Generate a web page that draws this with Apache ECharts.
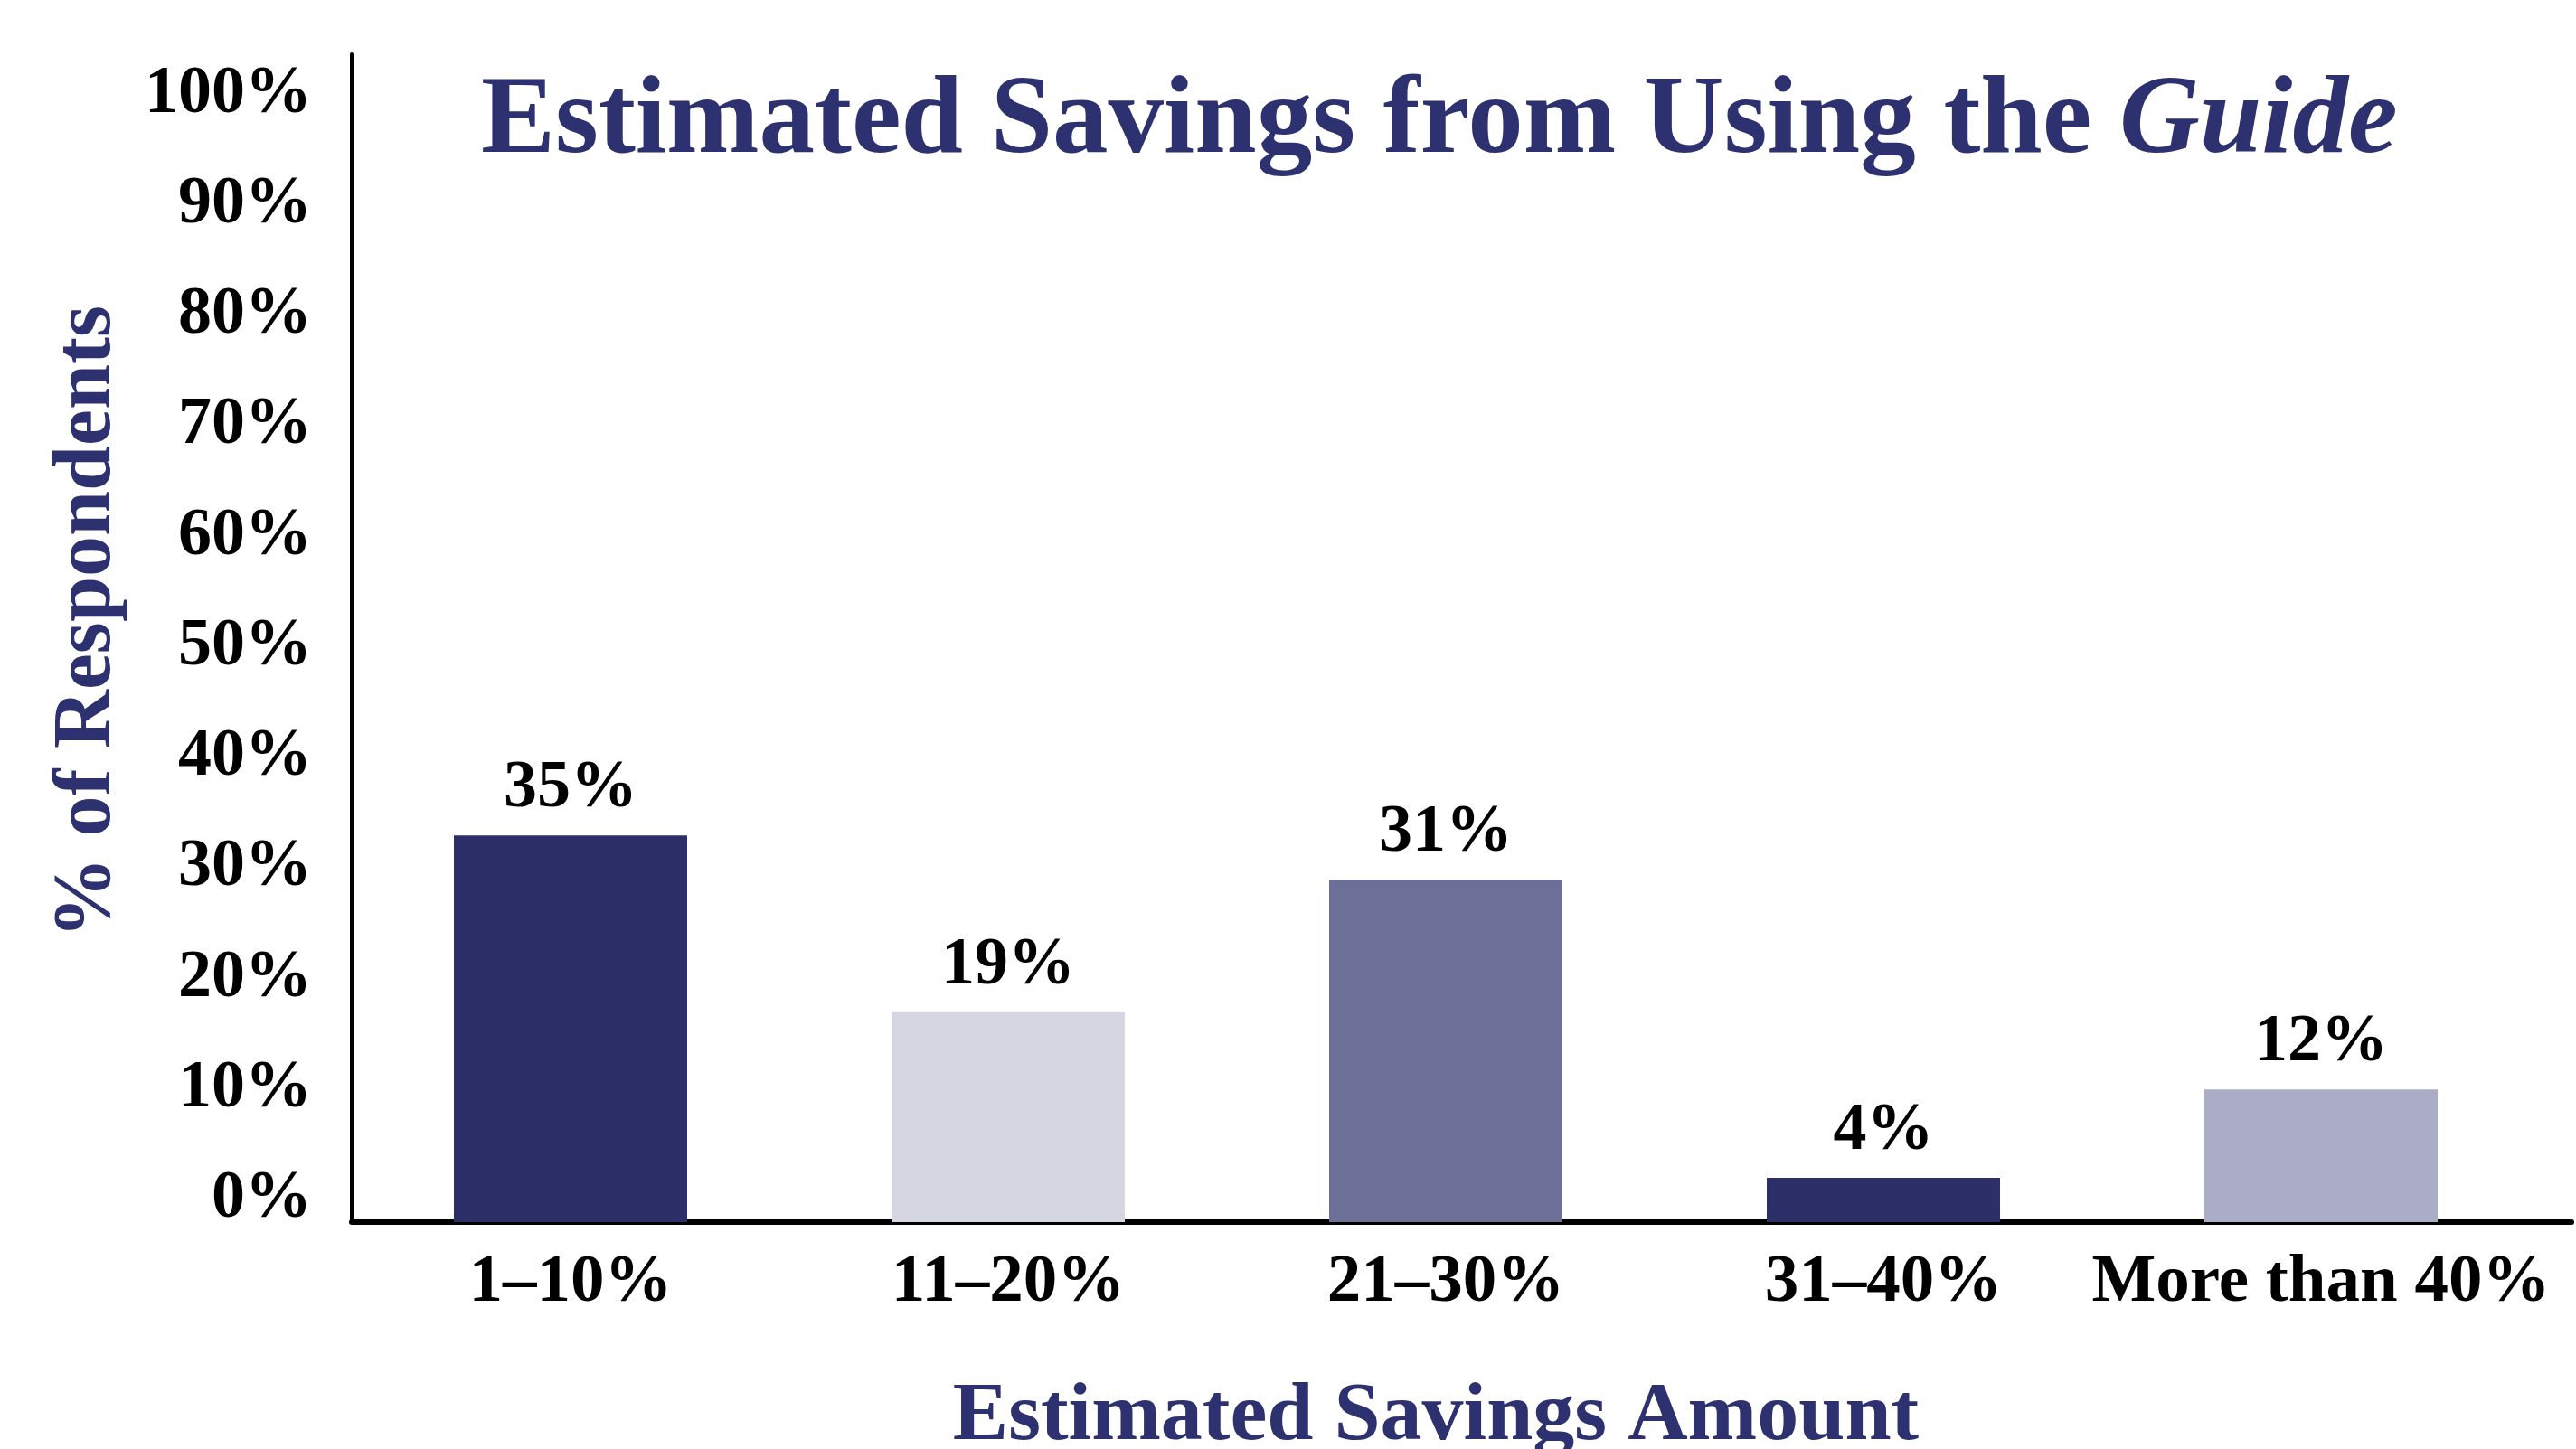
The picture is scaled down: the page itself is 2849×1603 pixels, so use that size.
<!DOCTYPE html>
<html>
<head>
<meta charset="utf-8">
<title>Estimated Savings from Using the Guide</title>
<script src="https://cdn.jsdelivr.net/npm/echarts@6/dist/echarts.min.js"></script>
<style>
  html, body { margin: 0; padding: 0; background: #fff; }
  #savingsChart { width: 2849px; height: 1603px; }
</style>
</head>
<body>
<div id="savingsChart"></div>
<script>
var dom = document.getElementById("savingsChart");
var myChart;

// data
var categories = ['1–10%', '11–20%', '21–30%', '31–40%', 'More than 40%'];
var percents = [35, 19, 31, 4, 12];
var barColors = ['#2d3068', '#d6d6e3', '#6c6f98', '#2d3068', '#abadc7'];

var navy = '#2e3170';
var serif = '"Liberation Serif", "DejaVu Serif", serif';

function initSavingsChart() {
    var option = {
        backgroundColor: '#ffffff',
        animation: false,

        title: {
            text: '{n|Estimated Savings from Using the }{i|Guide}',
            left: 527,
            top: 70,
            textStyle: {
                rich: {
                    n: { fontFamily: serif, fontWeight: 'bold', fontSize: 123, color: navy },
                    i: { fontFamily: serif, fontWeight: 'bold', fontStyle: 'italic', fontSize: 123, color: navy }
                }
            }
        },

        // grid 0 holds the bars, grid 1 only carries the longer baseline
        grid: [
            { left: 389, right: 40, top: 60, bottom: 251, containLabel: false, outerBoundsMode: 'none' },
            { left: 389, right: 5, top: 60, bottom: 251, containLabel: false, outerBoundsMode: 'none' }
        ],

        xAxis: [
            {
                type: 'category',
                gridIndex: 0,
                data: categories,
                name: 'Estimated Savings Amount',
                nameLocation: 'middle',
                nameGap: 170,
                nameTextStyle: {
                    fontFamily: serif, fontWeight: 'bold', fontSize: 92, color: navy,
                    padding: [0, 22, 0, 0]
                },
                axisLine: { show: false },
                axisTick: { show: false },
                axisLabel: {
                    interval: 0,
                    margin: 30,
                    fontFamily: serif, fontWeight: 'bold', fontSize: 75, color: '#000'
                }
            },
            {
                type: 'value',
                gridIndex: 1,
                min: 0,
                max: 1,
                axisLine: { show: true, lineStyle: { color: '#000', width: 6 } },
                axisTick: { show: false },
                axisLabel: { show: false },
                splitLine: { show: false }
            }
        ],

        yAxis: [
            {
                type: 'value',
                gridIndex: 0,
                min: 0,
                max: 105.7,
                interval: 10,
                name: '% of Respondents',
                nameLocation: 'middle',
                nameRotate: 90,
                nameGap: 246,
                nameTextStyle: {
                    fontFamily: serif, fontWeight: 'bold', fontSize: 90, color: navy,
                    padding: [0, 0, 0, 36]
                },
                axisLine: { show: true, lineStyle: { color: '#000', width: 4 } },
                axisTick: { show: false },
                splitLine: { show: false },
                axisLabel: {
                    showMaxLabel: false,
                    margin: 44,
                    verticalAlign: 'bottom',
                    lineHeight: 50,
                    fontFamily: serif, fontWeight: 'bold', fontSize: 74, color: '#000',
                    formatter: '{value}%'
                }
            },
            {
                type: 'value',
                gridIndex: 1,
                show: false
            }
        ],

        series: [
            {
                name: 'Respondents',
                type: 'bar',
                xAxisIndex: 0,
                yAxisIndex: 0,
                barWidth: 258,
                data: percents.map(function (v, idx) {
                    return { value: v, itemStyle: { color: barColors[idx] } };
                }),
                label: {
                    show: true,
                    position: 'top',
                    distance: 14,
                    fontFamily: serif, fontWeight: 'bold', fontSize: 74, color: '#000',
                    formatter: '{c}%'
                }
            }
        ]
    };

    myChart = echarts.init(dom);
    myChart.setOption(option, true);
}

initSavingsChart();
</script>
</body>
</html>
